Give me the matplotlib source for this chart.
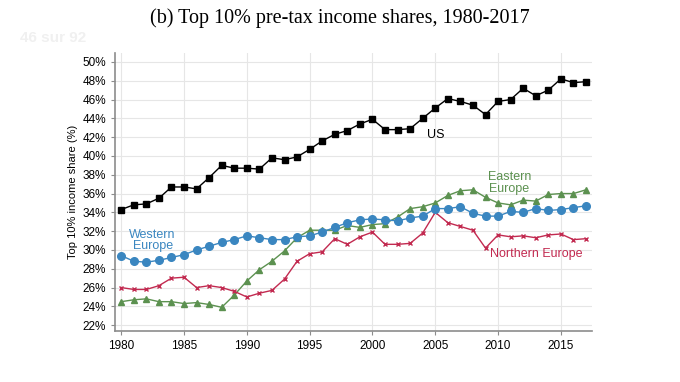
import matplotlib
matplotlib.use("Agg")
import matplotlib.pyplot as plt
import numpy as np

# Data (top 10% pre-tax income share, %)
years = np.arange(1980, 2018)

us = [34.3, 34.8, 34.9, 35.5, 36.7, 36.7, 36.5, 37.7, 39.0, 38.7,
      38.7, 38.6, 39.8, 39.6, 39.9, 40.7, 41.6, 42.3, 42.7, 43.4,
      43.9, 42.8, 42.8, 42.9, 44.0, 45.1, 46.1, 45.8, 45.4, 44.4,
      45.8, 46.0, 47.2, 46.4, 47.0, 48.2, 47.8, 47.9]

western = [29.4, 28.8, 28.7, 28.9, 29.2, 29.5, 30.0, 30.4, 30.8, 31.1,
           31.5, 31.3, 31.1, 31.1, 31.4, 31.5, 31.9, 32.4, 32.9, 33.2,
           33.3, 33.2, 33.1, 33.4, 33.6, 34.4, 34.4, 34.6, 33.9, 33.6,
           33.6, 34.1, 34.0, 34.4, 34.2, 34.3, 34.5, 34.7]

northern = [26.0, 25.8, 25.8, 26.2, 27.0, 27.1, 26.0, 26.2, 26.0, 25.6,
            25.0, 25.4, 25.7, 26.9, 28.8, 29.6, 29.8, 31.2, 30.6, 31.4,
            31.9, 30.6, 30.6, 30.7, 31.8, 34.0, 32.9, 32.5, 32.1, 30.2,
            31.6, 31.4, 31.5, 31.3, 31.6, 31.7, 31.1, 31.2]

eastern = [24.5, 24.7, 24.8, 24.5, 24.5, 24.3, 24.4, 24.2, 23.9, 25.2,
           26.7, 27.9, 28.8, 29.9, 31.3, 32.1, 32.1, 32.1, 32.6, 32.4,
           32.7, 32.8, 33.5, 34.4, 34.6, 35.0, 35.8, 36.3, 36.4, 35.6,
           35.0, 34.8, 35.3, 35.2, 35.9, 36.0, 36.0, 36.4]

yticks = np.arange(22, 51, 2)
xticks = [1980, 1985, 1990, 1995, 2000, 2005, 2010, 2015]

c_us = "black"
c_west = "#3a86c0"
c_north = "#c22a50"
c_east = "#5c9150"

fig = plt.figure(figsize=(6.8, 3.82), dpi=100)
ax = fig.add_axes([0.169, 0.134, 0.702, 0.726])

ax.plot(years, eastern, color=c_east, marker="^", ms=4.5, lw=1.0, zorder=3)
ax.plot(years, northern, color=c_north, marker="x", ms=3.5, mew=1.0, lw=1.0, zorder=3)
ax.plot(years, western, color=c_west, marker="o", ms=5.5, lw=1.0, zorder=4)
ax.plot(years, us, color=c_us, marker="s", ms=5, lw=1.0, zorder=5)

sans = ["Liberation Sans", "DejaVu Sans"]
ax.text(2005, 42.2, "US", color=c_us, fontsize=9, ha="center", va="center", family=sans)
ax.text(2010.9, 37.1, "Eastern\nEurope", color=c_east, fontsize=9, ha="center",
        va="center", linespacing=0.95, family=sans)
ax.text(1982.5, 31.0, "Western\nEurope", color=c_west, fontsize=9, ha="center",
        va="center", linespacing=0.95, family=sans)
ax.text(2013, 29.6, "Northern Europe", color=c_north, fontsize=9, ha="center",
        va="center", family=sans)

ax.set_xlim(1979.5, 2017.5)
ax.set_ylim(21.4, 50.9)
ax.set_xticks(xticks)
ax.set_yticks(yticks)
ax.set_yticklabels([f"{v}%" for v in yticks])
ax.grid(True, color="#e6e6e6", lw=0.8)
ax.set_axisbelow(True)

for s in ["top", "right"]:
    ax.spines[s].set_visible(False)
for s in ["left", "bottom"]:
    ax.spines[s].set_color("#8c8c8c")
    ax.spines[s].set_linewidth(1.2)
ax.tick_params(colors="#8c8c8c", labelcolor="black", labelsize=8.5, length=3, width=0.8)
for lab in ax.get_xticklabels() + ax.get_yticklabels():
    lab.set_family(sans)

ax.set_ylabel("Top 10% income share (%)", fontsize=8, family=sans, labelpad=3)

fig.text(0.5, 0.952, "(b) Top 10% pre-tax income shares, 1980-2017", ha="center",
         va="center", fontsize=14.5, family=["Liberation Serif", "DejaVu Serif"])
fig.text(0.03, 0.9, "46 sur 92", ha="left", va="center", fontsize=11, color="#f0f0f0",
         weight="bold", family=sans)

fig.savefig("out.png", dpi=100)
